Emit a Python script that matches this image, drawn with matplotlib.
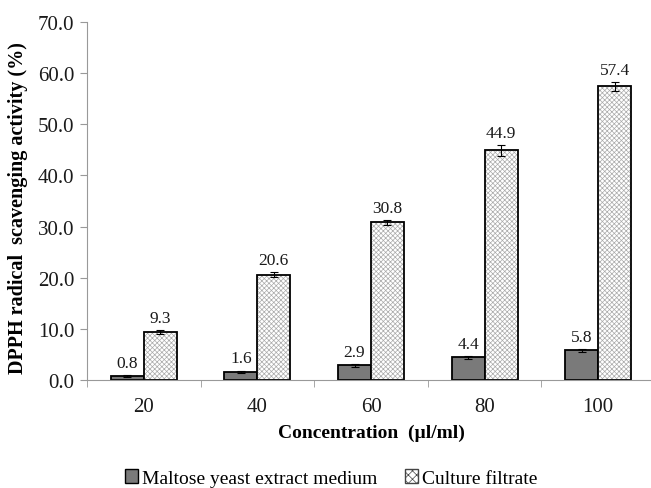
import numpy as np
import matplotlib.pyplot as plt

plt.rcParams['font.family'] = ['Liberation Serif', 'DejaVu Serif']
plt.rcParams['hatch.linewidth'] = 0.5

concentrations = ['20', '40', '60', '80', '100']
maltose = [0.8, 1.6, 2.9, 4.4, 5.8]
maltose_err = [0.25, 0.25, 0.3, 0.3, 0.25]
filtrate = [9.3, 20.6, 30.8, 44.9, 57.4]
filtrate_err = [0.4, 0.5, 0.4, 1.1, 0.8]

fig = plt.figure(figsize=(6.51, 4.89), dpi=100)
# axes runs slightly past the right edge, like the source image
ax = fig.add_axes([87 / 651, 1 - 381 / 489, 568 / 651, 358 / 489])

x = np.arange(len(concentrations))
w = 0.29

# dark bars
ax.bar(x - w / 2, maltose, w, color='#7a7a7a', edgecolor='black', linewidth=1.3,
       yerr=maltose_err, error_kw=dict(ecolor='black', elinewidth=0.8, capsize=3, capthick=0.8))

# dotted bars: hatch drawn in gray first, black outline on top
ax.bar(x + w / 2, filtrate, w, color='white', edgecolor='#aaaaaa', hatch='xxxxxxx', linewidth=0)
ax.bar(x + w / 2, filtrate, w, fill=False, edgecolor='black', linewidth=1.3,
       yerr=filtrate_err, error_kw=dict(ecolor='black', elinewidth=0.8, capsize=3, capthick=0.8))

for i in range(len(x)):
    ax.text(x[i] - w / 2, maltose[i] + maltose_err[i] + 0.8, f"{maltose[i]:.1f}",
            ha='center', va='bottom', fontsize=12.5, color='#1a1a1a')
    ax.text(x[i] + w / 2, filtrate[i] + filtrate_err[i] + 0.8, f"{filtrate[i]:.1f}",
            ha='center', va='bottom', fontsize=12.5, color='#1a1a1a')

# legend proxies
ax.bar([0], [0], 0, color='#7a7a7a', edgecolor='black', label='Maltose yeast extract medium')
ax.bar([0], [0], 0, color='white', edgecolor='#444444', hatch='xxxx', label='Culture filtrate')

ax.set_ylim(0, 70)
ax.set_yticks(np.arange(0, 71, 10))
ax.set_yticklabels([f"{v:.1f}" for v in np.arange(0, 71, 10)])
ax.set_xlim(-0.5, 4.5)
ax.set_xticks(x)
ax.set_xticklabels(concentrations)
ax.set_xticks(np.arange(-0.5, 5, 1), minor=True)
ax.tick_params(axis='x', which='major', length=0, pad=12, labelsize=15, labelcolor='#1a1a1a')
ax.tick_params(axis='x', which='minor', length=5, color='#999999')
ax.tick_params(axis='y', length=5, color='#999999', labelsize=15, labelcolor='#1a1a1a', pad=4)

for s in ['top', 'right']:
    ax.spines[s].set_visible(False)
for s in ['left', 'bottom']:
    ax.spines[s].set_color('#999999')

ax.set_xlabel('Concentration  (µl/ml)', fontsize=14, fontweight='bold', labelpad=6)
ax.set_ylabel('DPPH radical  scavenging activity (%)', fontsize=14.5, fontweight='bold')
ax.yaxis.set_label_coords(-0.104, 0.483)

handles, labels = ax.get_legend_handles_labels()
fig.legend(handles, labels, loc='center', bbox_to_anchor=(331 / 651, 1 - 479 / 489), ncol=2,
           frameon=False, fontsize=14, handlelength=0.7, handleheight=0.7,
           handletextpad=0.2, columnspacing=1.4)

fig.savefig('out.png', dpi=100)
